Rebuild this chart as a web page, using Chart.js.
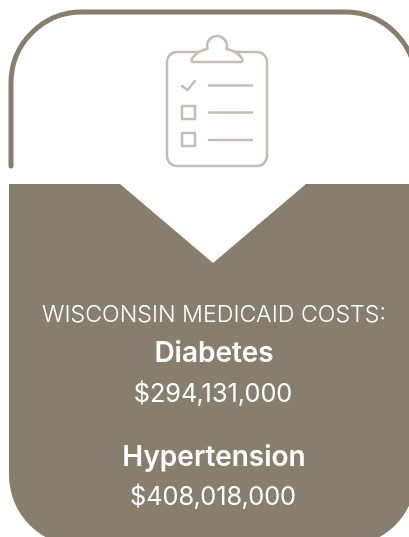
<!DOCTYPE html>
<html>
<head>
<meta charset="utf-8">
<style>
  html, body { margin: 0; padding: 0; background: #ffffff; }
  canvas { display: block; }
</style>
<script src="https://cdn.jsdelivr.net/npm/chart.js@4"></script>
</head>
<body>
<canvas id="costChart" width="409" height="537"></canvas>
<script>
const headline = 'WISCONSIN MEDICAID COSTS:';
const conditions = ['Diabetes', 'Hypertension'];
const costs = [294131000, 408018000];

const BROWN = '#877e6d';
const ICON = '#c3bdb2';
const FONT = 'Inter, "Noto Sans", sans-serif';

function formatCost(v) {
    return '$' + v.toLocaleString('en-US');
}

// the panel, the pointer notch and the clipboard icon are decoration, drawn in scale units
const panelPlugin = {
    id: 'panel',
    beforeDatasetsDraw(chart) {
        const { ctx } = chart;
        const X = v => chart.scales.x.getPixelForValue(v);
        const Y = v => chart.scales.y.getPixelForValue(v);

        ctx.save();

        // top outline
        ctx.strokeStyle = BROWN;
        ctx.lineWidth = 5;
        ctx.lineCap = 'round';
        ctx.beginPath();
        ctx.moveTo(X(11), Y(166));
        ctx.lineTo(X(11), Y(83));
        ctx.arcTo(X(11), Y(12), X(82), Y(12), 71);
        ctx.lineTo(X(345), Y(12));
        ctx.arcTo(X(416), Y(12), X(416), Y(83), 71);
        ctx.stroke();

        // lower panel with the notch
        ctx.fillStyle = BROWN;
        ctx.beginPath();
        ctx.moveTo(X(9), Y(184));
        ctx.lineTo(X(120), Y(184));
        ctx.lineTo(X(213), Y(263));
        ctx.lineTo(X(306), Y(184));
        ctx.lineTo(X(416), Y(184));
        ctx.lineTo(X(416), Y(475));
        ctx.arcTo(X(416), Y(546), X(345), Y(546), 71);
        ctx.lineTo(X(80), Y(546));
        ctx.arcTo(X(9), Y(546), X(9), Y(475), 71);
        ctx.closePath();
        ctx.fill();

        // clipboard
        ctx.strokeStyle = ICON;
        ctx.lineWidth = 2.5;
        ctx.lineCap = 'round';
        ctx.lineJoin = 'round';
        ctx.beginPath();
        ctx.roundRect(X(167), Y(52), 100, 114, 10);
        ctx.stroke();

        ctx.fillStyle = '#ffffff';
        ctx.beginPath();
        ctx.moveTo(X(193), Y(62));
        ctx.quadraticCurveTo(X(190), Y(61), X(193), Y(57));
        ctx.quadraticCurveTo(X(198), Y(51), X(207), Y(49));
        ctx.arc(X(217), Y(46), 10, Math.PI * 0.9, Math.PI * 0.1);
        ctx.quadraticCurveTo(X(236), Y(51), X(241), Y(57));
        ctx.quadraticCurveTo(X(244), Y(61), X(241), Y(62));
        ctx.closePath();
        ctx.fill();
        ctx.stroke();

        // check mark
        ctx.beginPath();
        ctx.moveTo(X(182), Y(86));
        ctx.lineTo(X(187.5), Y(90));
        ctx.lineTo(X(195), Y(81));
        ctx.stroke();

        // list rows
        [85.5, 112.5, 140].forEach(y => {
            ctx.beginPath();
            ctx.moveTo(X(209), Y(y));
            ctx.lineTo(X(252), Y(y));
            ctx.stroke();
        });
        [106, 133].forEach(y => {
            ctx.beginPath();
            ctx.rect(X(182), Y(y), 13, 13);
            ctx.stroke();
        });

        ctx.restore();
    },
    afterDatasetsDraw(chart) {
        const { ctx } = chart;
        const X = chart.scales.x.getPixelForValue(214);
        const Y = v => chart.scales.y.getPixelForValue(v);

        ctx.save();
        ctx.fillStyle = '#ffffff';
        ctx.textAlign = 'center';
        ctx.textBaseline = 'alphabetic';

        ctx.font = '300 23.2px ' + FONT;
        ctx.fillText(headline, X, Y(322));

        const nameY = [362, 466];
        const costY = [402, 505];
        conditions.forEach((name, i) => {
            ctx.font = '600 28px ' + FONT;
            ctx.fillText(name, X, Y(nameY[i]));
            ctx.font = '400 25.3px ' + FONT;
            ctx.fillText(formatCost(costs[i]), X - 1, Y(costY[i]));
        });
        ctx.restore();
    }
};

new Chart(document.getElementById('costChart').getContext('2d'), {
    type: 'bar',
    data: {
        labels: conditions,
        datasets: [{
            label: headline,
            data: [],
            backgroundColor: BROWN
        }]
    },
    options: {
        responsive: false,
        animation: false,
        layout: { padding: 0 },
        plugins: {
            legend: { display: false },
            title: { display: false },
            tooltip: { enabled: false }
        },
        scales: {
            x: { type: 'linear', min: 0, max: 409, offset: false, display: false },
            y: { type: 'linear', min: 0, max: 537, reverse: true, display: false }
        }
    },
    plugins: [panelPlugin]
});
</script>
</body>
</html>
